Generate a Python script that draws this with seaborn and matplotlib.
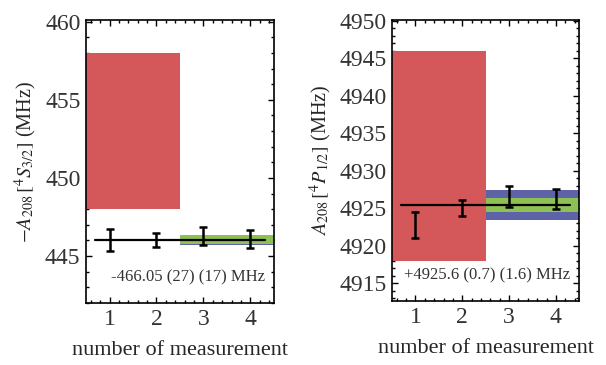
import numpy as np
import pandas as pd
import seaborn as sns
import matplotlib.pyplot as plt
from matplotlib.ticker import MultipleLocator

# datos
meas = [1, 2, 3, 4]

s_val = [446.0, 446.02, 446.28, 446.08]
s_err = [0.70, 0.45, 0.58, 0.58]
s_mean = 446.05
s_stat = 0.27
s_tot = 0.32
s_old = (448.0, 458.0)
s_text = '-466.05 (27) (17) MHz'

p_val = [4922.75, 4925.0, 4926.55, 4926.25]
p_err = [1.75, 1.10, 1.35, 1.35]
p_mean = 4925.4
p_stat = 0.95
p_tot = 2.0
p_old = (4918.0, 4946.0)
p_text = '+4925.6 (0.7) (1.6) MHz'

red = '#D4585A'
green = '#8DC153'
blue = '#5E63A8'

sns.set_theme(style='ticks')
plt.rcParams['font.family'] = ['Liberation Serif', 'DejaVu Serif']
plt.rcParams['mathtext.fontset'] = 'stix'
plt.rcParams['text.color'] = '#333333'
plt.rcParams['xtick.color'] = 'black'
plt.rcParams['ytick.color'] = 'black'
plt.rcParams['xtick.labelcolor'] = '#333333'
plt.rcParams['ytick.labelcolor'] = '#333333'

fig = plt.figure(figsize=(6.06, 3.65), dpi=100)
ax1 = fig.add_axes([0.142, 0.170, 0.310, 0.775])
ax2 = fig.add_axes([0.647, 0.175, 0.309, 0.770])


def panel(ax, val, err, mean, stat, tot, old, txt, ylim, ylab, ymaj):
    ax.axhspan(old[0], old[1], xmin=0, xmax=0.5, color=red, lw=0, zorder=1)
    ax.axhspan(mean - tot, mean + tot, xmin=0.5, xmax=1, color=blue, lw=0, zorder=1)
    ax.axhspan(mean - stat, mean + stat, xmin=0.5, xmax=1, color=green, lw=0, zorder=2)
    ax.plot([0.7, 4.3], [mean, mean], color='black', lw=1.6, zorder=3)
    df = pd.DataFrame({'n': meas, 'v': val, 'e': err})
    ax.errorbar(df['n'], df['v'], yerr=df['e'], fmt='none', ecolor='black',
                elinewidth=1.8, capsize=3, capthick=1.8, zorder=4)
    ax.text(4.3, ylim[0] + 0.09 * (ylim[1] - ylim[0]), txt, ha='right', va='center',
            fontsize=12)
    ax.set_xlim(0.5, 4.5)
    ax.set_ylim(*ylim)
    ax.set_xticks(meas)
    ax.xaxis.set_minor_locator(MultipleLocator(0.2))
    ax.yaxis.set_major_locator(MultipleLocator(ymaj))
    ax.yaxis.set_minor_locator(MultipleLocator(1))
    ax.tick_params(which='both', direction='in', top=True, right=True, labelsize=17)
    ax.tick_params(which='major', length=4.5, width=1, pad=4)
    ax.tick_params(which='minor', length=2, width=1)
    for sp in ax.spines.values():
        sp.set_linewidth(1.2)
        sp.set_color('black')
    ax.set_xlabel('number of measurement', fontsize=16, labelpad=8)
    ax.set_ylabel(ylab, fontsize=14.5, labelpad=4)


panel(ax1, s_val, s_err, s_mean, s_stat, s_tot, s_old, s_text, (442, 460.1),
      r'$-A_{208}\,[{}^4S_{3/2}]$ (MHz)', 5)
panel(ax2, p_val, p_err, p_mean, p_stat, p_tot, p_old, p_text, (4912.6, 4950.1),
      r'$A_{208}\,[{}^4P_{1/2}]$ (MHz)', 5)

fig.savefig('out.png', dpi=100)
